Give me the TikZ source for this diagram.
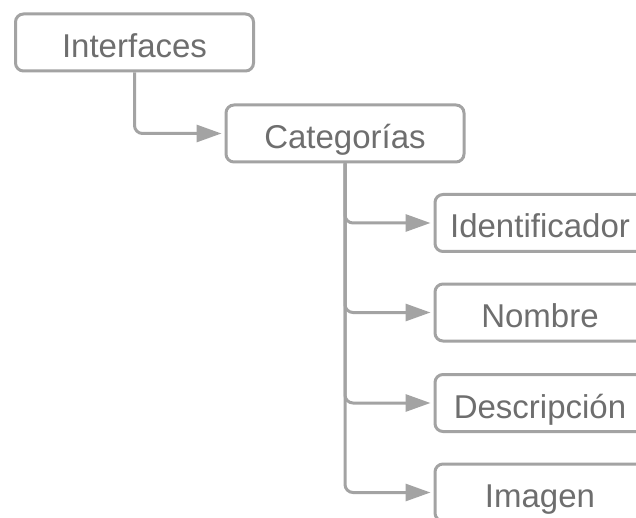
\documentclass[tikz,border=0pt]{standalone}
\usepackage{fontspec}
\setmainfont{Liberation Sans}
\usetikzlibrary{arrows.meta}
\definecolor{linegray}{HTML}{A3A3A3}
\definecolor{textgray}{HTML}{6E6E6E}
\begin{document}
\begin{tikzpicture}[x=1pt,y=-1pt,
  box/.style={draw=linegray, line width=3pt, rounded corners=8pt, inner sep=0pt,
    minimum height=57pt, text height=30pt, text depth=0pt,
    text=textgray, font=\fontsize{33}{40}\selectfont},
  conn/.style={draw=linegray, line width=3pt, rounded corners=8pt,
    -{Triangle[length=25pt,width=17pt]}, shorten >=3pt}
]
\path[use as bounding box, clip] (0,0) rectangle (636,518);
\fill[white] (0,0) rectangle (636,518);
\node[box, minimum width=238pt] (int) at (134.5,42.5) {Interfaces};
\node[box, minimum width=238pt] (cat) at (345,133.5) {Categorías};
\node[box, minimum width=210pt] (idf) at (540,223) {Identificador};
\node[box, minimum width=210pt] (nom) at (540,312.5) {Nombre};
\node[box, minimum width=210pt] (des) at (540,403) {Descripción};
\node[box, minimum width=210pt] (img) at (540,492.5) {Imagen};
\draw[conn] (int.south) |- (cat.west);
\draw[conn] (cat.south) |- (idf.west);
\draw[conn] (cat.south) |- (nom.west);
\draw[conn] (cat.south) |- (des.west);
\draw[conn] (cat.south) |- (img.west);
\end{tikzpicture}
\end{document}
